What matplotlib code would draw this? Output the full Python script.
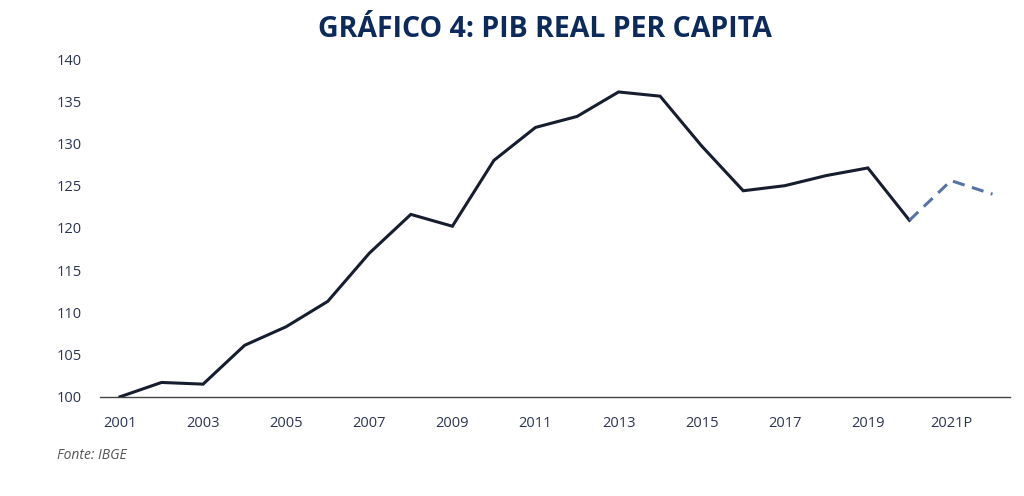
import numpy as np
import matplotlib
matplotlib.use("Agg")
import matplotlib.pyplot as plt

# data
years = list(range(2001, 2023))
pib = [100.0, 101.7, 101.5, 106.1, 108.3, 111.3, 117.0, 121.6, 120.2, 128.0, 131.9,
       133.2, 136.1, 135.6, 129.7, 124.4, 125.0, 126.2, 127.1, 120.9, 125.6, 124.0]
n_real = 20  # 2001-2020 observed, rest projected
tick_years = list(range(2001, 2022, 2))
tick_labels = [str(y) for y in tick_years[:-1]] + ["2021P"]

plt.rcParams['font.family'] = ['Open Sans', 'DejaVu Sans']

fig = plt.figure(figsize=(10.24, 4.96), dpi=100)
ax = fig.add_axes([0.0977, 0.2, 0.889, 0.681])

ax.plot(years[:n_real], pib[:n_real], color='#161d2f', lw=2.2, solid_joinstyle='miter')
ax.plot(years[n_real - 1:], pib[n_real - 1:], color='#5874a6', lw=2.2, ls=(0, (4, 2.5)))

ax.set_xlim(2000.52, 2022.43)
ax.set_ylim(100, 140)
ax.set_yticks(range(100, 141, 5))
ax.set_xticks(tick_years)
ax.set_xticklabels(tick_labels)

for s in ['top', 'right', 'left']:
    ax.spines[s].set_visible(False)
ax.spines['bottom'].set_color('#444444')
ax.spines['bottom'].set_linewidth(1.0)
ax.spines['bottom'].set_zorder(0)
ax.tick_params(axis='both', length=0, labelsize=10.5, colors='#2b3552')
ax.tick_params(axis='y', pad=13)
ax.tick_params(axis='x', pad=14)

fig.text(0.532, 0.94, 'GRÁFICO 4: PIB REAL PER CAPITA', ha='center', va='center',
         fontsize=20.5, fontweight='bold', color='#0c2a5c')
fig.text(0.056, 0.082, 'Fonte: IBGE', ha='left', va='center', fontsize=10,
         style='italic', color='#555555')

fig.savefig('out.png', dpi=100)
